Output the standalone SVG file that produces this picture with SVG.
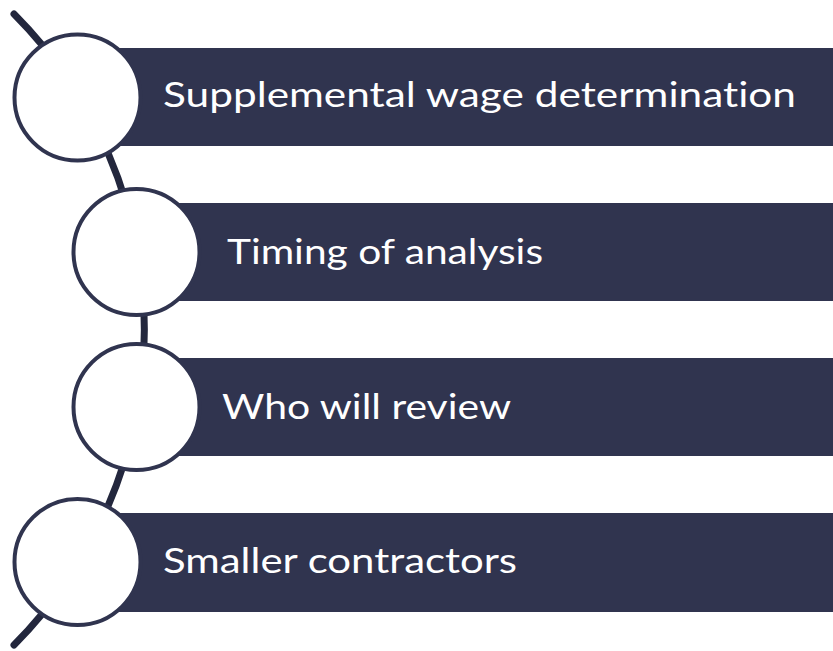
<svg xmlns="http://www.w3.org/2000/svg" width="833" height="651" viewBox="0 0 833 651">
  <style>
    .bar { fill: #30344f; }
    .dot { fill: #ffffff; stroke: #30344f; stroke-width: 4; }
    .arc { fill: none; stroke: #23273d; stroke-width: 7; stroke-linecap: round; }
    .lbl { fill: #ffffff; font-family: Lato, "Open Sans", "Liberation Sans", sans-serif; font-size: 35px; font-variant-ligatures: none; }
  </style>
  <rect width="833" height="651" fill="#ffffff"/>
  <g id="connectors">
    <path class="arc" d="M 14 14 A 447 447 0 0 1 14 645"/>
  </g>
  <g id="node1">
    <rect class="bar" x="78" y="48" width="755" height="98"/>
    <circle class="dot" cx="77.5" cy="97.5" r="63"/>
    <text class="lbl" x="163" y="107" textLength="633" lengthAdjust="spacingAndGlyphs">Supplemental wage determination</text>
  </g>
  <g id="node2">
    <rect class="bar" x="137" y="203" width="696" height="98"/>
    <circle class="dot" cx="136.5" cy="252" r="63"/>
    <text class="lbl" x="227" y="264" textLength="316" lengthAdjust="spacingAndGlyphs">Timing of analysis</text>
  </g>
  <g id="node3">
    <rect class="bar" x="137" y="358" width="696" height="98"/>
    <circle class="dot" cx="136.5" cy="407" r="63"/>
    <text class="lbl" x="222" y="419" textLength="289" lengthAdjust="spacingAndGlyphs">Who will review</text>
  </g>
  <g id="node4">
    <rect class="bar" x="78" y="513" width="755" height="99"/>
    <circle class="dot" cx="77.5" cy="562" r="63"/>
    <text class="lbl" x="163" y="573" textLength="354" lengthAdjust="spacingAndGlyphs">Smaller contractors</text>
  </g>
</svg>
